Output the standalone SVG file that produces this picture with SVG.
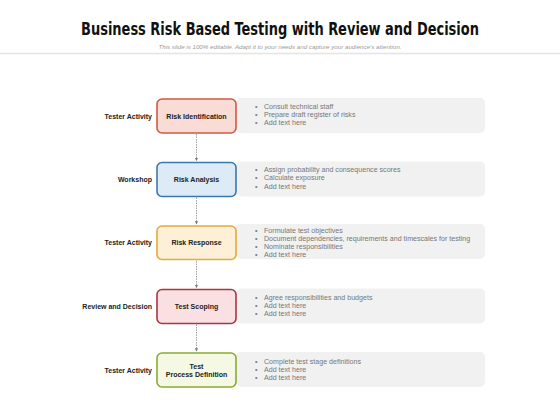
<svg xmlns="http://www.w3.org/2000/svg" width="560" height="420" viewBox="0 0 560 420">
<defs>
<style>
.title{font-family:"DejaVu Sans Condensed","Liberation Sans",sans-serif;font-weight:bold;font-size:18.5px;fill:#111}
.sub{font-family:"Liberation Sans",sans-serif;font-style:italic;font-size:6.2px;fill:#9a9a9a}
.lbl{font-family:"Liberation Sans",sans-serif;font-weight:bold;font-size:7px;fill:#222}
.nt{font-family:"Liberation Sans",sans-serif;font-weight:bold;font-size:7px;fill:#222;text-anchor:middle}
.bt{font-family:"Liberation Sans",sans-serif;font-size:7.1px;fill:#777}
.panel{fill:#f1f1f1}
.conn{stroke:#888;stroke-width:0.8;stroke-dasharray:1.5,1;fill:none}
</style>
<marker id="arr" viewBox="0 0 6 6" refX="5" refY="3" markerWidth="5" markerHeight="5" orient="auto">
<path d="M0,0.5 L5,3 L0,5.5 z" fill="#777"/>
</marker>
</defs>
<rect width="560" height="420" fill="#fff"/>
<text class="title" transform="translate(280,35) scale(0.78,1)" x="0" y="0" text-anchor="middle">Business Risk Based Testing with Review and Decision</text>
<text class="sub" x="280" y="49" text-anchor="middle">This slide is 100% editable. Adapt it to your needs and capture your audience's attention.</text>
<line x1="0" y1="53.5" x2="560" y2="53.5" stroke="#e4e4e4" stroke-width="1.5"/>

<g id="panels">
<rect class="panel" x="236" y="98" width="249" height="35" rx="5"/>
<rect class="panel" x="236" y="161.5" width="249" height="35" rx="5"/>
<rect class="panel" x="236" y="224" width="249" height="35" rx="5"/>
<rect class="panel" x="236" y="288.5" width="249" height="35" rx="5"/>
<rect class="panel" x="236" y="352" width="249" height="35" rx="5"/>
</g>

<g id="connectors">
<line class="conn" x1="196.5" y1="134" x2="196.5" y2="161" marker-end="url(#arr)"/>
<line class="conn" x1="196.5" y1="197.5" x2="196.5" y2="224.5" marker-end="url(#arr)"/>
<line class="conn" x1="196.5" y1="261" x2="196.5" y2="288" marker-end="url(#arr)"/>
<line class="conn" x1="196.5" y1="324.5" x2="196.5" y2="351.5" marker-end="url(#arr)"/>
</g>

<g id="node1">
<rect x="157" y="99" width="79" height="34" rx="5" fill="#f9dcd6" stroke="#cf5a44" stroke-width="1.6"/>
<text class="nt" x="196.5" y="118.5">Risk Identification</text>
<text class="lbl" x="152" y="118.5" text-anchor="end">Tester Activity</text>
<g class="bt">
<text x="255" y="108.5">•</text><text x="264" y="108.5">Consult technical staff</text>
<text x="255" y="116.8">•</text><text x="264" y="116.8">Prepare draft register of risks</text>
<text x="255" y="125.1">•</text><text x="264" y="125.1">Add text here</text>
</g>
</g>

<g id="node2">
<rect x="157" y="162.5" width="79" height="34" rx="5" fill="#dcebf5" stroke="#3a7aab" stroke-width="1.6"/>
<text class="nt" x="196.5" y="182">Risk Analysis</text>
<text class="lbl" x="152" y="182" text-anchor="end">Workshop</text>
<g class="bt">
<text x="255" y="172">•</text><text x="264" y="172">Assign probability and consequence scores</text>
<text x="255" y="180.3">•</text><text x="264" y="180.3">Calculate exposure</text>
<text x="255" y="188.6">•</text><text x="264" y="188.6">Add text here</text>
</g>
</g>

<g id="node3">
<rect x="157" y="226" width="79" height="33.5" rx="5" fill="#fdf0d6" stroke="#e3aa3c" stroke-width="1.6"/>
<text class="nt" x="196.5" y="245">Risk Response</text>
<text class="lbl" x="152" y="245" text-anchor="end">Tester Activity</text>
<g class="bt">
<text x="255" y="232.5">•</text><text x="264" y="232.5">Formulate test objectives</text>
<text x="255" y="240.8">•</text><text x="264" y="240.8">Document dependencies, requirements and timescales for testing</text>
<text x="255" y="249.1">•</text><text x="264" y="249.1">Nominate responsibilities</text>
<text x="255" y="257.4">•</text><text x="264" y="257.4">Add text here</text>
</g>
</g>

<g id="node4">
<rect x="157" y="289.5" width="79" height="34" rx="5" fill="#fae0e2" stroke="#a8383f" stroke-width="1.6"/>
<text class="nt" x="196.5" y="309">Test Scoping</text>
<text class="lbl" x="152" y="309" text-anchor="end">Review and Decision</text>
<g class="bt">
<text x="255" y="299.5">•</text><text x="264" y="299.5">Agree  responsibilities and budgets</text>
<text x="255" y="307.8">•</text><text x="264" y="307.8">Add text here</text>
<text x="255" y="316.1">•</text><text x="264" y="316.1">Add text here</text>
</g>
</g>

<g id="node5">
<rect x="157" y="353" width="79" height="34" rx="5" fill="#f5f9e3" stroke="#8aaa32" stroke-width="1.6"/>
<text class="nt" x="196.5" y="368.5">Test</text>
<text class="nt" x="196.5" y="376.8">Process Definition</text>
<text class="lbl" x="152" y="372.5" text-anchor="end">Tester Activity</text>
<g class="bt">
<text x="255" y="363.5">•</text><text x="264" y="363.5">Complete test stage definitions</text>
<text x="255" y="371.8">•</text><text x="264" y="371.8">Add text here</text>
<text x="255" y="380.1">•</text><text x="264" y="380.1">Add text here</text>
</g>
</g>
</svg>
